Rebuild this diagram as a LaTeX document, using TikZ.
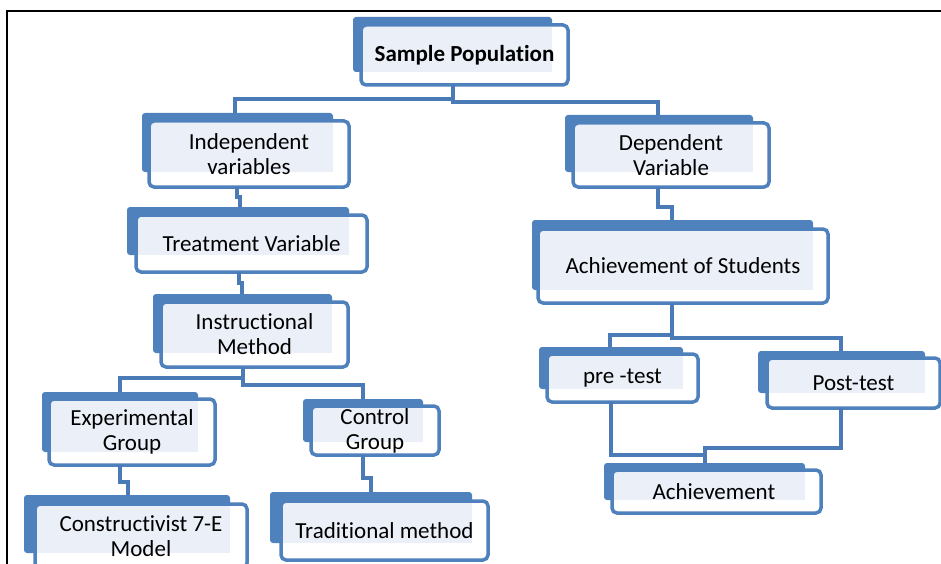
\documentclass[tikz,border=0pt]{standalone}
\usepackage{fontspec}
\setmainfont[Ligatures={NoCommon,NoDiscretionary,NoContextual}]{Carlito}
\definecolor{boxblue}{HTML}{4F81BD}
\definecolor{connblue}{HTML}{4A7BB7}
\definecolor{lightfill}{HTML}{EBF0F8}
\tikzset{
  backbox/.style={draw=none, fill=boxblue, rounded corners=3pt, inner sep=0pt, outer sep=0pt},
  frontbox/.style={draw=boxblue, line width=3.5pt, rounded corners=5pt, inner sep=0pt, outer sep=0pt,
    font=\fontsize{23}{25}\selectfont, align=center, text=black},
  conn/.style={draw=connblue, line width=4pt, line cap=butt, line join=miter},
  frame/.style={draw=black, line width=2pt}
}
\begin{document}
\begin{tikzpicture}[x=1pt,y=-1pt]
\useasboundingbox (0,0) rectangle (941,564);
\fill[white] (0,0) rectangle (941,564);
\draw[frame] (7,565) -- (7,11) -- (942,11);

% boxes
\foreach \n/\bx/\by/\bX/\bY/\fx/\fy/\fX/\fY/\t in {
 sp/353/17/552/72/361/25/568/85/{\bfseries Sample Population},
 indep/142/113/333/172/149/121/349/187/{Independent\\variables},
 dep/565/115/753/172/573/123/769/187/{Dependent\\Variable},
 treat/127/207/349/255/136/215/367/272/{Treatment Variable},
 instr/153/294/332/353/161/302/348/367/{Instructional\\Method},
 ach/532/220/813/290/538/229/828/303/{Achievement of Students},
 exp/42/392/198/452/49/399/215/465/{Experimental\\Group},
 ctrl/303/399/423/442/311/406/439/455/{Control\\Group},
 cons/24/495/230/553/35/504/247/568/{Constructivist 7-E\\Model},
 trad/270/492/472/543/281/501/488/560/{Traditional method},
 pre/539/347/683/389/547/354/698/402/{pre -test},
 post/758/351/925/393/767/358/940/408/{Post-test},
 achv/604/463/805/500/612/470/821/513/{Achievement}
}{
  \node[backbox, minimum width={(\bX-\bx)*1pt}, minimum height={(\bY-\by)*1pt}]
    (\n-b) at ({(\bx+\bX)/2},{(\by+\bY)/2}) {};
  \fill[white, rounded corners=5pt] (\fx,\fy) rectangle (\fX,\fY);
  \fill[lightfill] ({\fx+1.75},{\fy+1.75}) rectangle (\bX,\bY);
  \node[frontbox, minimum width={(\fX-\fx)*1pt}, minimum height={(\fY-\fy)*1pt}]
    (\n) at ({(\fx+\fX)/2},{(\fy+\fY)/2}) {};
  \node[font=\fontsize{23}{25}\selectfont, align=center, inner sep=0pt]
    (\n-t) at (\n.center) {\t};
}

% connectors
\begin{scope}
\draw[conn] (sp.south -| 453,0) -- (453,99) -- (235,99) -- (indep-b.north -| 235,0);
\draw[conn] (sp.south -| 453,0) -- (453,102) -- (658,102) -- (dep-b.north -| 658,0);
\draw[conn] (indep.south -| 237,0) -- (237,197) -- (240,197) -- (treat-b.north -| 240,0);
\draw[conn] (treat.south -| 239,0) -- (239,283) -- (242,283) -- (instr-b.north -| 242,0);
\draw[conn] (instr.south -| 243,0) -- (243,378) -- (120,378) -- (exp-b.north -| 120,0);
\draw[conn] (instr.south -| 243,0) -- (243,385) -- (363,385) -- (ctrl-b.north -| 363,0);
\draw[conn] (exp.south -| 120,0) -- (120,482) -- (128,482) -- (cons-b.north -| 128,0);
\draw[conn] (ctrl.south -| 363,0) -- (363,478) -- (371,478) -- (trad-b.north -| 371,0);
\draw[conn] (dep.south -| 658,0) -- (658,207) -- (672,207) -- (ach-b.north -| 672,0);
\draw[conn] (ach.south -| 672,0) -- (672,335) -- (610,335) -- (pre-b.north -| 610,0);
\draw[conn] (ach.south -| 672,0) -- (672,338) -- (841,338) -- (post-b.north -| 841,0);
\draw[conn] (pre.south -| 611,0) -- (611,455) -- (705,455) -- (achv-b.north -| 705,0);
\draw[conn] (post.south -| 841,0) -- (841,448) -- (705,448) -- (705,455);
\end{scope}
\end{tikzpicture}
\end{document}
